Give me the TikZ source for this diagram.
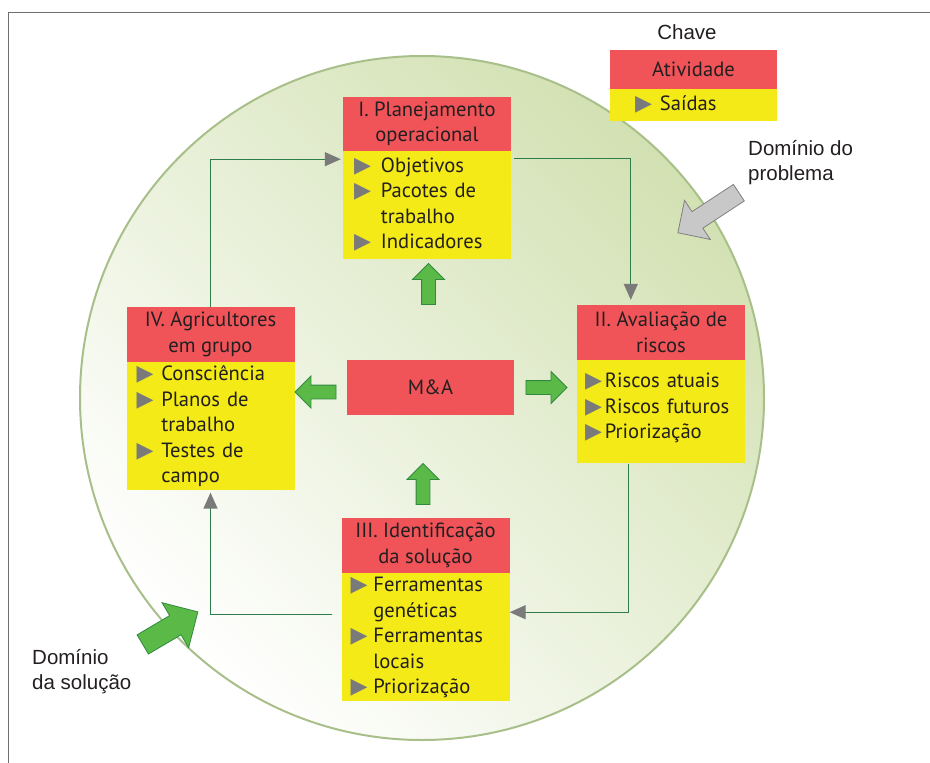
\documentclass[tikz,border=0pt]{standalone}
\usepackage{fontspec}
\setmainfont{PT Sans}
\newfontfamily\notesfont{Liberation Sans}
\newfontfamily\symbfont{DejaVu Sans}
\usetikzlibrary{positioning,arrows.meta,shapes.arrows,calc}

\definecolor{actred}{HTML}{F05459}
\definecolor{outyellow}{HTML}{F3EA17}
\definecolor{bulgray}{HTML}{7A7A7A}
\definecolor{linkgreen}{HTML}{2E7D4B}
\definecolor{arrowgreen}{HTML}{5BBA47}
\definecolor{arrowedge}{HTML}{2F8A3F}
\definecolor{domgreen}{HTML}{D2E1B2}
\definecolor{domedge}{HTML}{A8BF8A}
\definecolor{probgray}{HTML}{C8C8C8}
\definecolor{framegray}{HTML}{6D6E70}
\definecolor{txt}{HTML}{231F20}

\newcommand{\boxfont}{\fontsize{20.6}{25.5}\selectfont}
\newcommand{\labfont}{\notesfont\fontsize{20.5}{24.5}\selectfont}
\newcommand{\bul}{\textcolor{bulgray}{\symbfont\fontsize{22}{19}\selectfont\char"25B6}}
\newcommand{\outlist}[2][8pt]{\begin{tabular}{@{}l@{\hspace{#1}}l@{}}#2\end{tabular}}

\tikzset{
  act/.style={fill=actred, text=txt, font=\boxfont, align=center, minimum width=168, minimum height=55, inner sep=0},
  outs/.style={fill=outyellow, text=txt, font=\boxfont, align=left, text width=148, inner xsep=10, inner ysep=0},
  link/.style={draw=linkgreen, line width=1.3pt, -{Triangle[length=16pt,width=14pt,color=bulgray]}},
  blockarrow/.style={single arrow, fill=arrowgreen, draw=arrowedge, line width=0.8pt, minimum width=0, inner sep=6.5, single arrow head extend=9, minimum height=41, outer sep=0},
  note/.style={text=txt, font=\labfont, align=left, inner sep=0}
}

\begin{document}
\begin{tikzpicture}[x=1pt,y=-1pt]
\useasboundingbox (0,0) rectangle (930,763);
\draw[framegray, line width=1.3pt] (930,12.5) -- (8.5,12.5) -- (8.5,763);
% domain circle
\shadedraw[draw=domedge, line width=2pt, shading=axis, left color=white, right color=domgreen, shading angle=135] (422,398) circle (342);

% key
\node[note] (chave) at (687,32) {Chave};
\node[act, minimum width=167, minimum height=39] (keyact) at (693.5,69.5) {Atividade};
\node[outs, text width=117, inner xsep=25, minimum height=32, below=0pt of keyact] (keyout) {\outlist{\bul & Saídas}};

% activities
\node[act, minimum height=54] (It) at (427,124) {I. Planejamento\\operacional};
\node[outs, text width=146, inner xsep=11, minimum height=108, below=0pt of It] (Iy) {\outlist[10pt]{\bul & Objetivos\\ \bul & Pacotes de\\ & trabalho\\ \bul & Indicadores\rule[-4pt]{0pt}{0pt}}};

\node[act] (IIt) at (661,332.5) {II. Avaliação de\\riscos};
\node[outs, text width=152, inner xsep=8, minimum height=103, below=0pt of IIt] (IIy) {\outlist[3pt]{\bul & Riscos atuais\\ \bul & Riscos futuros\\ \bul & Priorização\rule[-15pt]{0pt}{0pt}}};

\node[act] (IIIt) at (425.5,545.5) {III. Identificação\\da solução};
\node[outs, text width=150, inner xsep=9, minimum height=128, below=0pt of IIIt] (IIIy) {\outlist[6pt]{\bul & Ferramentas\\ & genéticas\\ \bul & Ferramentas\\ & locais\\ \bul & Priorização}};

\node[act] (IVt) at (210.5,334.5) {IV. Agricultores\\em grupo};
\node[outs, minimum height=128, below=0pt of IVt] (IVy) {\outlist[8pt]{\bul & Consciência\\ \bul & Planos de\\ & trabalho\\ \bul & Testes de\\ & campo}};

\node[act, minimum width=167] (MA) at (430.5,387.5) {M\&A};

% M&A arrows
\node[blockarrow, rotate=90] (upI) at (428.5,287.5) {};
\node[blockarrow, rotate=90] (upIII) at (423,487.5) {};
\node[blockarrow, rotate=180] (toIV) at (319,392) {};
\node[blockarrow] (toII) at (543,387.5) {};

% cycle
\coordinate (c4) at ($(IIIy.north west)+(-9,41)$);
\draw[link, shorten >=2pt] (IVt.north) |- ($(Iy.north west)+(0,8)$);
\draw[link, shorten >=5pt] ($(Iy.north east)+(3,7)$) -| ($(IIt.north west)+(54,0)$);
\draw[link] ($(IIy.south west)+(52,0)$) |- ($(IIIy.north east)+(0,39)$);
\draw[link, shorten >=2pt] (c4) -| (IVy.south);

% domains
\node[note, anchor=west] (prob) at (748,162.5) {Domínio do\\problema};
\node[single arrow, fill=probgray, draw=gray, line width=0.8pt, minimum width=0, inner sep=9.5, single arrow head extend=13.5, minimum height=73, rotate=213.3] (probarrow) at (712.5,210) {};
\node[note, anchor=west] (sol) at (32,671.5) {Domínio\\da solução};
\node[blockarrow, inner sep=10.75, single arrow head extend=15, minimum height=64, rotate=30.6] (solarrow) at (165.5,631) {};
\end{tikzpicture}
\end{document}
